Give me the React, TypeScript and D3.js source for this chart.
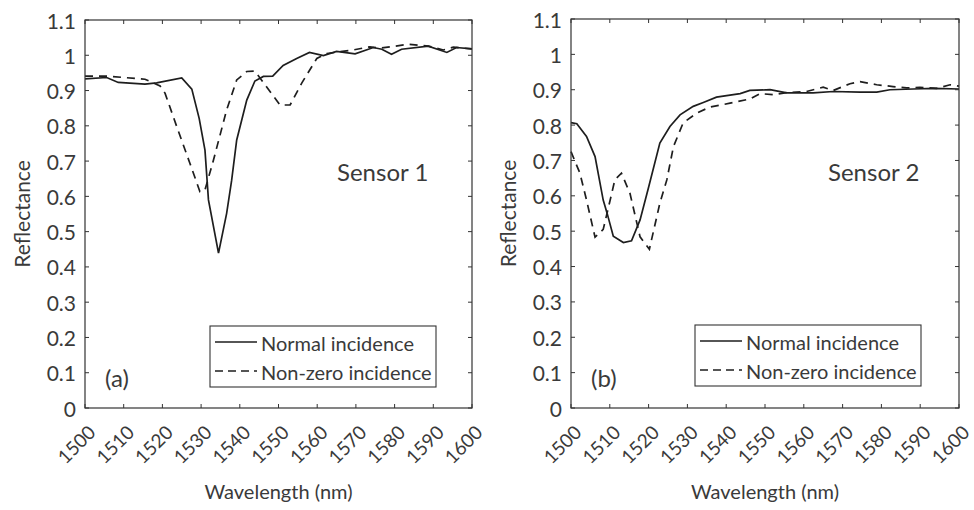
import React from "react";
import * as d3 from "d3";

// Sensor 1
const s1NormalWl = [1500, 1505.6, 1508.6, 1515.5, 1518.5, 1525, 1527.6, 1529.5, 1531, 1531.9, 1534.5, 1536.6, 1537.9, 1539.2, 1541.8, 1543.9, 1546.1, 1548.5, 1551.2, 1554.7, 1558, 1561.6, 1565, 1569.8, 1574.5, 1576.7, 1579.2, 1581.8, 1588.7, 1593.5, 1596, 1600];
const s1NormalR = [0.933, 0.937, 0.923, 0.918, 0.922, 0.936, 0.904, 0.821, 0.731, 0.59, 0.439, 0.552, 0.646, 0.76, 0.873, 0.927, 0.94, 0.941, 0.971, 0.991, 1.008, 0.999, 1.011, 1.004, 1.022, 1.017, 1.003, 1.017, 1.026, 1.008, 1.022, 1.018];
const s1OffWl = [1500, 1505.8, 1515.5, 1519.4, 1520.7, 1523.7, 1527.1, 1529.7, 1531, 1533.2, 1536.6, 1539.2, 1541.8, 1543.9, 1546.9, 1550.4, 1553, 1556, 1559.9, 1562.5, 1569.3, 1573.6, 1576.2, 1583.5, 1588.7, 1592.6, 1595.2, 1600];
const s1OffR = [0.941, 0.941, 0.932, 0.913, 0.892, 0.798, 0.694, 0.613, 0.618, 0.703, 0.845, 0.93, 0.954, 0.955, 0.911, 0.859, 0.859, 0.921, 0.991, 1.005, 1.015, 1.024, 1.02, 1.031, 1.026, 1.015, 1.023, 1.018];

// Sensor 2
const s2NormalWl = [1500, 1501.5, 1504, 1506.2, 1508.3, 1509.3, 1510.9, 1513.5, 1515.6, 1517.8, 1519.9, 1522.9, 1525.5, 1528.1, 1531.5, 1534.1, 1537.5, 1543.6, 1546.1, 1551.3, 1555.6, 1562.4, 1567.6, 1574.5, 1578.8, 1582.2, 1588.2, 1593.4, 1600];
const s2NormalR = [0.807, 0.804, 0.768, 0.711, 0.588, 0.551, 0.486, 0.468, 0.473, 0.532, 0.62, 0.749, 0.796, 0.829, 0.853, 0.864, 0.879, 0.889, 0.898, 0.9, 0.891, 0.891, 0.895, 0.893, 0.893, 0.9, 0.902, 0.904, 0.902];
const s2OffWl = [1500, 1502.3, 1504, 1506.2, 1508.3, 1510.5, 1511.3, 1513, 1515.2, 1517.8, 1520.2, 1522.9, 1524.7, 1526.4, 1528.9, 1532.4, 1535.8, 1541, 1546.1, 1548.7, 1552.1, 1555.6, 1560.7, 1565, 1567.6, 1571.9, 1574.5, 1578.8, 1583, 1586.5, 1589.9, 1594.2, 1597.7, 1600];
const s2OffR = [0.725, 0.664, 0.588, 0.483, 0.505, 0.607, 0.645, 0.664, 0.607, 0.484, 0.449, 0.579, 0.645, 0.739, 0.806, 0.834, 0.851, 0.862, 0.874, 0.889, 0.886, 0.892, 0.895, 0.907, 0.898, 0.917, 0.923, 0.914, 0.909, 0.905, 0.907, 0.904, 0.914, 0.91];

const xTicks = [1500, 1510, 1520, 1530, 1540, 1550, 1560, 1570, 1580, 1590, 1600];
const yTicks = [0, 0.1, 0.2, 0.3, 0.4, 0.5, 0.6, 0.7, 0.8, 0.9, 1, 1.1];
const seriesNames = ["Normal incidence", "Non-zero incidence"];

const FONT = "Lato, 'Open Sans', sans-serif";
const TEXT = "#3a3a3a";
const LINE = "#1e1e1e";

type PanelProps = {
  left: number; right: number; top: number; bottom: number;
  normWl: number[]; normR: number[]; offWl: number[]; offR: number[];
  sensor: string; sensorX: number; tag: string;
  legendX: number; legendY: number;
};

function Panel(p: PanelProps) {
  const x = d3.scaleLinear().domain([1500, 1600]).range([p.left, p.right]);
  const y = d3.scaleLinear().domain([0, 1.1]).range([p.bottom, p.top]);
  const line = d3.line<[number, number]>().x(d => x(d[0])).y(d => y(d[1]));
  const norm = line(p.normWl.map((w, i) => [w, p.normR[i]]) as [number, number][]) || "";
  const off = line(p.offWl.map((w, i) => [w, p.offR[i]]) as [number, number][]) || "";
  const tl = 4;
  const lw = 226, lh = 61;
  return (
    <g fontFamily={FONT}>
      <path d={norm} fill="none" stroke={LINE} strokeWidth={1.7} />
      <path d={off} fill="none" stroke={LINE} strokeWidth={1.7} strokeDasharray="8,6" />
      <rect x={p.left} y={p.top} width={p.right - p.left} height={p.bottom - p.top} fill="none" stroke="#333" strokeWidth={1.2} />
      {xTicks.map(t => (
        <g key={"x" + t}>
          <line x1={x(t)} x2={x(t)} y1={p.bottom} y2={p.bottom - tl} stroke="#333" />
          <line x1={x(t)} x2={x(t)} y1={p.top} y2={p.top + tl} stroke="#333" />
          <text transform={`translate(${x(t) - 9},${p.bottom + 36}) rotate(-45)`} textAnchor="middle" dominantBaseline="central" fontSize={19} fill={TEXT}>{t}</text>
        </g>
      ))}
      {yTicks.map(t => (
        <g key={"y" + t}>
          <line x1={p.left} x2={p.left + tl} y1={y(t)} y2={y(t)} stroke="#333" />
          <line x1={p.right} x2={p.right - tl} y1={y(t)} y2={y(t)} stroke="#333" />
          <text x={p.left - 9} y={y(t)} textAnchor="end" dominantBaseline="central" fontSize={21} fill={TEXT}>{d3.format("~g")(t)}</text>
        </g>
      ))}
      <text transform={`translate(${p.left - 64},${(p.top + p.bottom) / 2}) rotate(-90)`} textAnchor="middle" dominantBaseline="central" fontSize={21} fill={TEXT}>Reflectance</text>
      <text x={(p.left + p.right) / 2} y={491} textAnchor="middle" dominantBaseline="central" fontSize={20} fill={TEXT}>Wavelength (nm)</text>
      <text x={p.sensorX} y={181} fontSize={24} fill={TEXT}>{p.sensor}</text>
      <text x={p.left + 20} y={387} fontSize={24} fill={TEXT}>{p.tag}</text>
      <rect x={p.legendX} y={p.legendY} width={lw} height={lh} fill="white" stroke="#333" strokeWidth={1.1} />
      <line x1={p.legendX + 5} x2={p.legendX + 47} y1={p.legendY + 16} y2={p.legendY + 16} stroke={LINE} strokeWidth={1.5} />
      <line x1={p.legendX + 5} x2={p.legendX + 47} y1={p.legendY + 45} y2={p.legendY + 45} stroke={LINE} strokeWidth={1.5} strokeDasharray="8,5" />
      <text x={p.legendX + 51} y={p.legendY + 17} dominantBaseline="central" fontSize={20} fill={TEXT}>{seriesNames[0]}</text>
      <text x={p.legendX + 51} y={p.legendY + 46} dominantBaseline="central" fontSize={20} fill={TEXT}>{seriesNames[1]}</text>
    </g>
  );
}

export default function App() {
  return (
    <svg width={974} height={510} style={{ position: "absolute", left: 0, top: 0, background: "white" }}>
      <rect width={974} height={510} fill="white" />
      <Panel left={85} right={472} top={20} bottom={408} normWl={s1NormalWl} normR={s1NormalR} offWl={s1OffWl} offR={s1OffR} sensor="Sensor 1" sensorX={337} tag="(a)" legendX={210} legendY={326} />
      <Panel left={571} right={959} top={19} bottom={408} normWl={s2NormalWl} normR={s2NormalR} offWl={s2OffWl} offR={s2OffR} sensor="Sensor 2" sensorX={828} tag="(b)" legendX={695} legendY={325} />
    </svg>
  );
}
